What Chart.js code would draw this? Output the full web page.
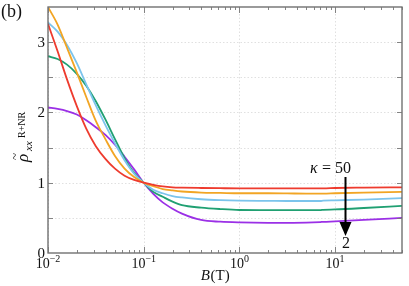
<!DOCTYPE html>
<html>
<head>
<meta charset="utf-8">
<script src="https://cdn.jsdelivr.net/npm/chart.js@4.4.1/dist/chart.umd.min.js"></script>
<style>
  html, body { margin: 0; padding: 0; background: #fff; }
  #wrap { width: 409px; height: 286px; }
</style>
</head>
<body>
<div id="wrap"><canvas id="chart"></canvas></div>
<script>
// magnetic field B (T), log spaced
var bField = [0.01, 0.0126, 0.0158, 0.02, 0.0251, 0.0316, 0.0398, 0.0501, 0.0631, 0.0794,
              0.1, 0.126, 0.158, 0.2, 0.251, 0.398, 0.631, 1, 2, 3.16, 5, 7, 7.5, 10, 20, 50];

// rho_xx^(R+NR), one list per kappa
var kappa50 = [3.26, 2.87, 2.47, 2.09, 1.77, 1.52, 1.34, 1.20, 1.10, 1.04,
               1.00, 0.97, 0.948, 0.935, 0.93, 0.925, 0.922, 0.92, 0.92, 0.92, 0.92, 0.92, 0.92, 0.925, 0.93, 0.935];
var kappa20 = [3.50, 3.25, 2.92, 2.57, 2.22, 1.88, 1.62, 1.38, 1.20, 1.08,
               1.00, 0.95, 0.91, 0.89, 0.875, 0.86, 0.855, 0.85, 0.85, 0.848, 0.845, 0.845, 0.845, 0.85, 0.86, 0.87];
var kappa10 = [3.28, 3.15, 2.96, 2.70, 2.40, 2.10, 1.82, 1.56, 1.32, 1.13,
               1.00, 0.90, 0.85, 0.81, 0.79, 0.765, 0.752, 0.745, 0.742, 0.74, 0.74, 0.74, 0.745, 0.75, 0.76, 0.78];
var kappa5  = [2.80, 2.76, 2.68, 2.55, 2.38, 2.16, 1.90, 1.62, 1.35, 1.14,
               1.00, 0.87, 0.80, 0.73, 0.68, 0.645, 0.625, 0.612, 0.61, 0.61, 0.61, 0.61, 0.615, 0.62, 0.64, 0.67];
var kappa2  = [2.07, 2.05, 2.02, 1.97, 1.89, 1.79, 1.68, 1.54, 1.37, 1.19,
               1.00, 0.84, 0.72, 0.63, 0.56, 0.47, 0.445, 0.435, 0.43, 0.43, 0.432, 0.44, 0.443, 0.45, 0.47, 0.50];

var seriesList = [kappa50, kappa20, kappa10, kappa5, kappa2];
var seriesColors = ['#ee3b2e', '#f2a524', '#7cc4ec', '#20a072', '#9b30e6'];

var xDecades = [0.01, 0.1, 1, 10];
var xDecadeLabels = [['10', '\u22122'], ['10', '\u22121'], ['10', '0'], ['10', '1']];
var yTickValues = [0, 1, 2, 3];

var serif = '"Liberation Serif", "DejaVu Serif", serif';

var datasets = seriesList.map(function (vals, i) {
    return {
        data: bField.map(function (b, j) { return { x: b, y: vals[j] }; }),
        borderColor: seriesColors[i],
        borderWidth: 1.8,
        pointRadius: 0,
        fill: false,
        cubicInterpolationMode: 'monotone'
    };
});

// frame, dotted grid, inward ticks, labels and annotations
var decorPlugin = {
    id: 'decor',
    beforeDatasetsDraw: function (chart) {
        var ctx = chart.ctx, a = chart.chartArea;
        var xs = chart.scales.x, ys = chart.scales.y;
        ctx.save();
        ctx.strokeStyle = '#d8d8d8';
        ctx.lineWidth = 0.8;
        ctx.setLineDash([1.5, 2]);
        xDecades.forEach(function (v) {
            var px = Math.round(xs.getPixelForValue(v)) + 0.5;
            ctx.beginPath(); ctx.moveTo(px, a.top); ctx.lineTo(px, a.bottom); ctx.stroke();
        });
        for (var v = 0.5; v < 3.5; v += 0.5) {
            var py = Math.round(ys.getPixelForValue(v)) + 0.5;
            ctx.beginPath(); ctx.moveTo(a.left, py); ctx.lineTo(a.right, py); ctx.stroke();
        }
        ctx.restore();
    },
    afterDraw: function (chart) {
        var ctx = chart.ctx, a = chart.chartArea;
        var xs = chart.scales.x, ys = chart.scales.y;
        ctx.save();
        ctx.strokeStyle = '#666';
        ctx.lineWidth = 1.3;
        ctx.strokeRect(a.left, a.top, a.right - a.left, a.bottom - a.top);

        // x ticks (major + minor), bottom and top
        ctx.lineWidth = 0.9;
        ctx.strokeStyle = '#777';
        for (var d = -2; d <= 1; d++) {
            for (var m = 1; m <= 9; m++) {
                var v = m * Math.pow(10, d);
                if (v > 50) break;
                var px = Math.round(xs.getPixelForValue(v)) + 0.5;
                var len = m === 1 ? 6 : 3;
                ctx.beginPath();
                ctx.moveTo(px, a.bottom); ctx.lineTo(px, a.bottom - len);
                ctx.moveTo(px, a.top); ctx.lineTo(px, a.top + len);
                ctx.stroke();
            }
        }
        // y ticks every 0.5, left and right
        for (var yv = 0.5; yv < 3.5; yv += 0.5) {
            var py = Math.round(ys.getPixelForValue(yv)) + 0.5;
            ctx.beginPath();
            ctx.moveTo(a.left, py); ctx.lineTo(a.left + 5, py);
            ctx.moveTo(a.right, py); ctx.lineTo(a.right - 5, py);
            ctx.stroke();
        }

        ctx.fillStyle = '#111';
        // y tick labels
        ctx.font = '15px ' + serif;
        ctx.textAlign = 'right';
        ctx.textBaseline = 'middle';
        yTickValues.forEach(function (v) {
            ctx.fillText(String(v), a.left - 3, ys.getPixelForValue(v) + 1);
        });
        // x tick labels 10^n
        ctx.textBaseline = 'alphabetic';
        xDecades.forEach(function (v, i) {
            var px = xs.getPixelForValue(v);
            ctx.font = '14px ' + serif;
            var w1 = ctx.measureText(xDecadeLabels[i][0]).width;
            ctx.font = '10px ' + serif;
            var w2 = ctx.measureText(xDecadeLabels[i][1]).width;
            var x0 = px - (w1 + w2) / 2;
            ctx.textAlign = 'left';
            ctx.font = '14px ' + serif;
            ctx.fillText(xDecadeLabels[i][0], x0, 268);
            ctx.font = '10px ' + serif;
            ctx.fillText(xDecadeLabels[i][1], x0 + w1, 262);
        });

        // x axis title B(T)
        ctx.textAlign = 'left';
        ctx.font = 'italic 15px ' + serif;
        var wB = ctx.measureText('B').width;
        ctx.font = '15px ' + serif;
        var wT = ctx.measureText('(T)').width;
        var tx = 215 - (wB + wT) / 2;
        ctx.font = 'italic 15px ' + serif;
        ctx.fillText('B', tx, 280);
        ctx.font = '15px ' + serif;
        ctx.fillText('(T)', tx + wB + 0.5, 280);

        // y axis title rho~_xx^(R+NR)
        ctx.save();
        ctx.translate(28, 162);
        ctx.rotate(-Math.PI / 2);
        ctx.font = 'italic 17px ' + serif;
        ctx.fillText('\u03C1', 0, 0);
        ctx.font = '13px ' + serif;
        ctx.fillText('~', 2, -9);
        ctx.font = 'italic 11px ' + serif;
        ctx.fillText('xx', 11, 4);
        ctx.font = '10px ' + serif;
        ctx.fillText('R+NR', 24, -3);
        ctx.restore();

        // panel label
        ctx.font = '18px ' + serif;
        ctx.fillText('(b)', 1, 17);

        // kappa annotation with arrow
        ctx.textAlign = 'left';
        ctx.font = 'italic 16px ' + serif;
        ctx.fillText('\u03BA', 310, 173);
        ctx.font = '16px ' + serif;
        ctx.fillText('= 50', 322, 173);
        ctx.textAlign = 'center';
        ctx.fillText('2', 346, 248);
        ctx.strokeStyle = '#000';
        ctx.lineWidth = 2;
        ctx.beginPath(); ctx.moveTo(345.5, 177); ctx.lineTo(345.5, 224); ctx.stroke();
        ctx.fillStyle = '#000';
        ctx.beginPath();
        ctx.moveTo(339.5, 222); ctx.lineTo(351.5, 222); ctx.lineTo(345.5, 236); ctx.closePath();
        ctx.fill();
        ctx.restore();
    }
};

new Chart(document.getElementById('chart').getContext('2d'), {
    type: 'line',
    data: { datasets: datasets },
    options: {
        responsive: true,
        maintainAspectRatio: false,
        animation: false,
        layout: { padding: { top: 7, right: 7, left: 0, bottom: 0 } },
        scales: {
            x: {
                type: 'logarithmic',
                min: 0.01,
                max: 50,
                grid: { display: false },
                border: { display: false },
                ticks: { display: false },
                afterFit: function (scale) { scale.height = 33; }
            },
            y: {
                min: 0,
                max: 3.5,
                grid: { display: false },
                border: { display: false },
                ticks: { display: false, stepSize: 0.5 },
                afterFit: function (scale) { scale.width = 48; }
            }
        },
        plugins: {
            legend: { display: false },
            title: { display: false },
            tooltip: { enabled: false }
        }
    },
    plugins: [decorPlugin]
});
</script>
</body>
</html>
